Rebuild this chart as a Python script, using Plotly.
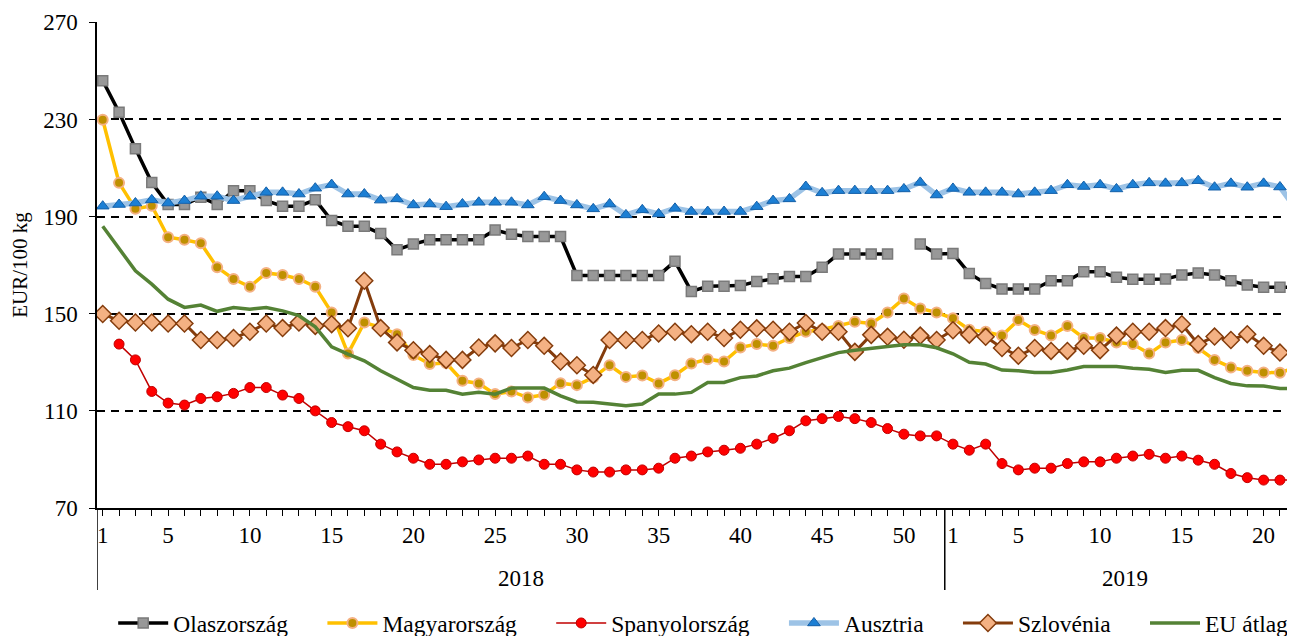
import plotly.graph_objects as go

# ---- data -----------------------------------------------------------
years = ["2018"] * 52 + ["2019"] * 22
weeks = list(range(1, 53)) + list(range(1, 23))

olaszorszag = [246, 233, 218, 204, 195, 195, 198, 195, 200.7, 200.7,
               196.6, 194.3, 194.3, 196.9, 188.4, 186, 186, 183, 176.4, 178.7,
               180.5, 180.5, 180.5, 180.5, 184.5, 182.7, 181.8, 181.8, 181.8, 165.8,
               165.8, 165.8, 165.8, 165.8, 165.8, 171.6, 159.2, 161.3, 161.3, 161.6,
               163.3, 164.4, 165.3, 165.3, 169.1, 174.6, 174.6, 174.6, 174.6, None,
               178.7, 174.6,
               174.8, 166.6, 162.5, 160.2, 160.2, 160.2, 163.6, 163.6, 167.3, 167.3,
               165, 164.2, 164.2, 164.3, 166, 166.8, 166, 163.6, 161.8, 160.9,
               160.9, 160.9]

magyarorszag = [229.9, 203.9, 193.2, 194.5, 181.5, 180.5, 179, 169.1, 164.3, 161.1,
                166.8, 166, 164.3, 161.1, 150.5, 133.6, 146.4, 144.4, 141.6, 133,
                129.3, 129.7, 122.4, 121.3, 116.9, 118, 115.5, 116.6, 121.4, 120.6,
                123.7, 128.8, 124, 124.6, 121.3, 124.7, 129.5, 131.3, 130.3, 136.1,
                137.5, 136.8, 140, 142.6, 143.5, 145, 146.7, 146, 150.5, 156.3,
                152.2, 150.5,
                148.1, 143.4, 142.6, 141, 147.4, 143.3, 141, 145, 140, 140,
                138.2, 137.5, 133.6, 138.2, 139.2, 135.9, 131, 127.9, 126.5, 125.8,
                125.7, 127.9]

spanyolorszag = [None, 137.5, 131, 118, 113.2, 112.4, 115.1, 115.8, 117.2, 119.6,
                 119.6, 116.5, 115.1, 110, 105.2, 103.5, 101.8, 96.3, 93.1, 90.5,
                 88, 88, 89, 89.8, 90.5, 90.5, 91.4, 88, 88, 85.7,
                 84.8, 84.8, 85.7, 85.7, 86.4, 90.5, 91.4, 93.1, 93.8, 94.6,
                 96.3, 98.7, 101.8, 105.9, 106.8, 107.7, 106.8, 105.2, 102.7, 100.4,
                 99.7, 99.7,
                 96.3, 93.8, 96.3, 88.3, 85.7, 86.4, 86.4, 88.3, 89, 89,
                 90.5, 91.4, 92.1, 90.5, 91.4, 89.7, 88, 84.2, 82.5, 81.5,
                 81.5, 81.5]

ausztria = [194.3, 195, 195.6, 196.9, 195.6, 196.6, 198.4, 198.4, 196.6, 198.4,
            200, 200, 199.3, 201.7, 203.2, 199.3, 199.3, 196.8, 197.3, 194.8,
            195.2, 194.1, 195.2, 195.9, 195.9, 195.9, 194.8, 198.2, 196.6, 194.8,
            193.2, 195.2, 190.7, 192.8, 191.1, 193.4, 192.1, 192.1, 192.1, 192.1,
            194.1, 196.6, 197.3, 202.4, 199.8, 200.7, 200.7, 200.7, 200.7, 201.4,
            204.1, 198.9,
            201.6, 200, 200, 200, 199.3, 200, 200.7, 203.1, 202.4, 203.1,
            201.4, 203.1, 203.9, 203.7, 203.9, 204.8, 202.1, 203.7, 202.1, 203.7,
            202.2, 193]

szlovenia = [149.9, 147.1, 146.4, 146.4, 146, 146, 139.2, 139.2, 140, 142.6,
             146, 144.1, 146.4, 145, 145.7, 144, 163.6, 144.1, 138.2, 135,
             133.4, 131, 131, 136.1, 137.8, 135.9, 139.2, 136.8, 130.3, 128.8,
             124.8, 139.2, 139.2, 139.2, 141.9, 142.6, 141.6, 142.6, 140, 143.4,
             144, 143.4, 142.6, 146.2, 142.6, 142.6, 134.3, 141.3, 140.5, 139.3,
             141, 139.2,
             143.2, 141.4, 140.5, 135.9, 132.7, 135.9, 134.7, 134.7, 136.8, 135,
             141, 142.6, 142.6, 144.1, 145.7, 137.5, 140.6, 139.2, 141.6, 136.8,
             134, 135]

eu_atlag = [186, 176.8, 167.7, 162.2, 156, 152.6, 153.6, 151, 152.6, 151.9,
            152.6, 151.2, 149.2, 144.6, 136.4, 133.4, 130.6, 126.5, 123, 119.6,
            118.5, 118.5, 116.9, 117.7, 116.9, 119.4, 119.4, 119.4, 116.2, 113.7,
            113.5, 112.8, 112.1, 112.8, 116.9, 116.9, 117.6, 121.7, 121.7, 123.7,
            124.4, 126.5, 127.6, 129.9, 132, 134, 135, 135.9, 136.5, 137.2,
            137.2, 136,
            133.5, 130, 129.3, 126.8, 126.5, 125.8, 125.8, 126.8, 128.3, 128.3,
            128.3, 127.6, 127.1, 125.8, 126.7, 126.7, 123.7, 121.3, 120.3, 120.2,
            119.2, 119.2]

series_names = ["Olaszország", "Magyarország", "Spanyolország",
                "Ausztria", "Szlovénia", "EU átlag"]
y_ticks = [70, 110, 150, 190, 230, 270]
y_title = "EUR/100 kg"

# ---- figure ---------------------------------------------------------
FONT = "Liberation Serif, Times New Roman, serif"
x = list(range(len(weeks)))

styles = {
    "Olaszország": dict(line=dict(color="#000000", width=3.5),
                        marker=dict(symbol="square", size=10, color="#989898",
                                    line=dict(color="#7a7a7a", width=1.5))),
    "Magyarország": dict(line=dict(color="#FFC000", width=3.5),
                         marker=dict(symbol="circle", size=10, color="#BF9000",
                                     line=dict(color="#F4B183", width=2))),
    "Spanyolország": dict(line=dict(color="#C00000", width=1.5),
                          marker=dict(symbol="circle", size=10, color="#FF0000",
                                      line=dict(color="#C00000", width=1))),
    "Ausztria": dict(line=dict(color="#9DC3E6", width=5.5),
                     marker=dict(symbol="triangle-up", size=11, color="#1C7FD4",
                                 line=dict(color="#1560A8", width=1))),
    "Szlovénia": dict(line=dict(color="#843C0C", width=3),
                      marker=dict(symbol="diamond", size=13, color="#F4B183",
                                  line=dict(color="#843C0C", width=1.5))),
    "EU átlag": dict(line=dict(color="#548235", width=3.5), marker=None),
}
data = [olaszorszag, magyarorszag, spanyolorszag, ausztria, szlovenia, eu_atlag]

fig = go.Figure()
pad = "\u00a0" * 5  # extra gap between legend entries
for k, (name, vals) in enumerate(zip(series_names, data)):
    st = styles[name]
    label = name + (pad if k < len(series_names) - 1 else "")
    kw = dict(x=x, y=vals, name=label, line=st["line"], connectgaps=False)
    if st["marker"] is None:
        kw["mode"] = "lines"
    else:
        kw["mode"] = "lines+markers"
        kw["marker"] = st["marker"]
    fig.add_trace(go.Scatter(**kw))

tickvals = [i for i, w in enumerate(weeks) if w == 1 or w % 5 == 0]
ticktext = [str(weeks[i]) for i in tickvals]

# the page body has an 8px margin; the figure is sized to fit the window
W, H = 1287, 628
fig.update_layout(
    width=W, height=H,
    margin=dict(l=89, r=0, t=14, b=128, autoexpand=False),
    paper_bgcolor="white", plot_bgcolor="white",
    font=dict(family=FONT, size=23, color="black"),
    showlegend=True,
    legend=dict(orientation="h", x=0.506, xanchor="center", y=-0.237,
                yanchor="middle", font=dict(size=23.5), itemwidth=50,
                traceorder="normal"),
)
fig.update_xaxes(
    range=[-0.35, 72.92], tickmode="array", tickvals=tickvals, ticktext=ticktext,
    showline=True, linecolor="black", linewidth=1.5, mirror=False,
    ticks="outside", ticklen=6, tickcolor="black", tickwidth=1,
    minor=dict(ticks="outside", dtick=1, tick0=0, ticklen=6, tickcolor="black",
               tickwidth=1, showgrid=False),
    showgrid=False, zeroline=False, ticklabelstandoff=0, automargin=False,
    tickfont=dict(size=23),
)
fig.update_yaxes(
    range=[70, 270.15], tickmode="array", tickvals=y_ticks,
    showline=True, linecolor="black", linewidth=1.5,
    ticks="outside", ticklen=6, tickcolor="black",
    showgrid=True, gridcolor="black", gridwidth=1.5, griddash="8px,6px",
    zeroline=False, tickfont=dict(size=23), ticklabelstandoff=7, automargin=False,
    title=dict(text=y_title, font=dict(size=21), standoff=10),
)

# year dividers and labels
plot_h = H - 14 - 128
div_bottom = -(590 - 508) / plot_h
boundaries = [-0.35] + [i - 0.5 for i in range(1, len(years)) if years[i] != years[i - 1]]
for b in boundaries:
    fig.add_shape(type="line", xref="x", yref="paper", x0=b, x1=b, y0=0, y1=div_bottom,
                  line=dict(color="black", width=1.5))

year_list = sorted(set(years))
for yr in year_list:
    idx = [i for i, v in enumerate(years) if v == yr]
    start = max(idx[0] - 0.5, -0.35)
    end = idx[-1] + 0.5
    fig.add_annotation(x=(start + end) / 2, y=-(578 - 508) / plot_h, xref="x", yref="paper",
                       text=yr, showarrow=False, font=dict(size=23), yanchor="middle")

fig.write_html("out.html")
